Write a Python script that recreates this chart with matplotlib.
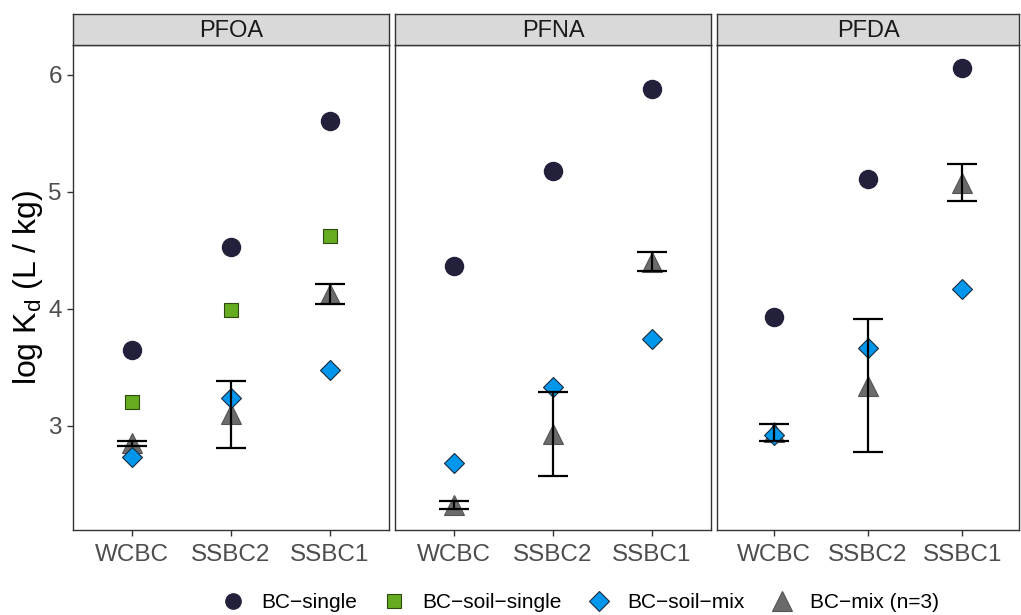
import matplotlib
matplotlib.use("Agg")
import matplotlib.pyplot as plt
from matplotlib.lines import Line2D

plt.rcParams['font.family'] = ['Liberation Sans', 'DejaVu Sans']

# data
panels = ['PFOA', 'PFNA', 'PFDA']
sites = ['WCBC', 'SSBC2', 'SSBC1']

bc_single = {'PFOA': [3.65, 4.53, 5.61],
             'PFNA': [4.37, 5.18, 5.88],
             'PFDA': [3.93, 5.11, 6.06]}
bc_soil_single = {'PFOA': [3.20, 3.99, 4.62]}
bc_soil_mix = {'PFOA': [2.73, 3.24, 3.48],
               'PFNA': [2.68, 3.33, 3.74],
               'PFDA': [2.92, 3.67, 4.17]}
bc_mix_mean = {'PFOA': [2.85, 3.10, 4.125],
               'PFNA': [2.325, 2.93, 4.405],
               'PFDA': [2.945, 3.345, 5.08]}
bc_mix_err = {'PFOA': [0.02, 0.285, 0.085],
              'PFNA': [0.035, 0.36, 0.085],
              'PFDA': [0.075, 0.565, 0.16]}

c_single = '#22203A'
c_soil = '#66AC20'
c_mix_soil = '#0096EC'
c_mix = '#6B6B6B'

W, H = 1021, 615
fig = plt.figure(figsize=(W / 100, H / 100), dpi=100)

lefts = [73, 395, 717]
widths = [316, 316, 302]
top, bottom, strip_top = 45, 530, 14
x = [1, 2, 3]

for i, name in enumerate(panels):
    l = lefts[i]
    w = widths[i]
    ax = fig.add_axes([l / W, 1 - bottom / H, w / W, (bottom - top) / H])
    ax.set_xlim(0.4, 3.6)
    ax.set_ylim(2.11, 6.256)

    ax.plot(x, bc_single[name], 'o', ms=13, mfc=c_single, mec=c_single, zorder=3)
    if name in bc_soil_single:
        ax.plot(x, bc_soil_single[name], 's', ms=10, mfc=c_soil, mec='#2f4a10',
                mew=0.8, zorder=3)
    ax.plot(x, bc_mix_mean[name], '^', ms=15, mfc=c_mix, mec='#555555',
            mew=0.8, zorder=3)
    ax.plot(x, bc_soil_mix[name], 'D', ms=10, mfc=c_mix_soil, mec='#1a2a3a',
            mew=0.8, zorder=4)
    ax.errorbar(x, bc_mix_mean[name], yerr=bc_mix_err[name], fmt='none',
                ecolor='black', elinewidth=1.6, capsize=11, capthick=1.6,
                zorder=5)

    ax.set_xticks(x)
    ax.set_xticklabels(sites, fontsize=17.5, color='#4D4D4D')
    ax.tick_params(axis='x', length=4, width=1, color='#333333', pad=6)
    ax.set_yticks([3, 4, 5, 6])
    if i == 0:
        ax.tick_params(axis='y', labelsize=17.5, labelcolor='#4D4D4D',
                       length=4, width=1, color='#333333', pad=4)
        ax.set_ylabel(r'log K$_{\mathregular{d}}$ (L / kg)', fontsize=23)
        ax.yaxis.set_label_coords(-0.089, 0.5)
    else:
        ax.tick_params(axis='y', length=0, labelleft=False)
    for sp in ax.spines.values():
        sp.set_color('#333333')
        sp.set_linewidth(1)

    sax = fig.add_axes([l / W, 1 - top / H, w / W, (top - strip_top) / H])
    sax.set_facecolor('#D9D9D9')
    sax.set_xticks([])
    sax.set_yticks([])
    for sp in sax.spines.values():
        sp.set_color('#333333')
        sp.set_linewidth(1)
    sax.text(0.5, 0.45, name, transform=sax.transAxes, ha='center',
             va='center', fontsize=17, color='#1A1A1A')

handles = [
    Line2D([], [], ls='none', marker='o', ms=11, mfc=c_single, mec=c_single),
    Line2D([], [], ls='none', marker='s', ms=10, mfc=c_soil, mec='#2f4a10', mew=0.8),
    Line2D([], [], ls='none', marker='D', ms=10, mfc=c_mix_soil, mec='#1a2a3a', mew=0.8),
    Line2D([], [], ls='none', marker='^', ms=14, mfc=c_mix, mec='#555555', mew=0.8),
]
labels = ['BC\u2212single', 'BC\u2212soil\u2212single', 'BC\u2212soil\u2212mix',
          'BC\u2212mix (n=3)']
fig.legend(handles, labels, loc='center', bbox_to_anchor=(0.569, 1 - 603 / H),
           ncol=4, frameon=False, fontsize=15, handletextpad=0.85,
           columnspacing=1.3, handlelength=1.0)

fig.savefig('out.png', dpi=100)
